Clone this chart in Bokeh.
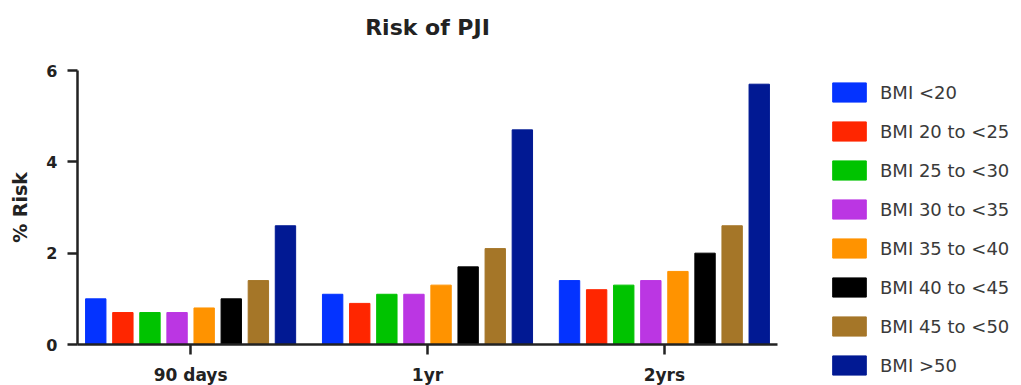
from bokeh.plotting import figure
from bokeh.models import ColumnDataSource, FactorRange, Range1d, FixedTicker, Legend, LegendItem, Title
from bokeh.transform import dodge
from bokeh.embed import file_html
from bokeh.resources import INLINE

# Follow-up windows
periods = ["90 days", "1yr", "2yrs"]

# BMI bands
bmi_groups = ["BMI <20", "BMI 20 to <25", "BMI 25 to <30", "BMI 30 to <35",
              "BMI 35 to <40", "BMI 40 to <45", "BMI 45 to <50", "BMI >50"]

# % risk of PJI per BMI band, one value per follow-up window
risk_lt20 = [1.0, 1.1, 1.4]
risk_20_25 = [0.7, 0.9, 1.2]
risk_25_30 = [0.7, 1.1, 1.3]
risk_30_35 = [0.7, 1.1, 1.4]
risk_35_40 = [0.8, 1.3, 1.6]
risk_40_45 = [1.0, 1.7, 2.0]
risk_45_50 = [1.4, 2.1, 2.6]
risk_gt50 = [2.6, 4.7, 5.7]

y_ticks = [0, 2, 4, 6]

colors = ["#0433FF", "#FF2600", "#00C300", "#BB36E3",
          "#FF9300", "#000000", "#A57628", "#011993"]

series = [risk_lt20, risk_20_25, risk_25_30, risk_30_35,
          risk_35_40, risk_40_45, risk_45_50, risk_gt50]

source = ColumnDataSource(data={"period": periods,
                                **{f"s{i}": vals for i, vals in enumerate(series)}})

FONT = "DejaVu Sans"

p = figure(frame_width=700, frame_height=274,
           x_range=FactorRange(*periods, range_padding=-0.015),
           y_range=Range1d(0, 6),
           output_backend="svg", toolbar_location=None,
           min_border_left=77, min_border_right=0,
           min_border_top=70, min_border_bottom=41)

step = 0.1144
bar_w = 0.086
items = []
for i, (name, col) in enumerate(zip(bmi_groups, colors)):
    r = p.vbar(x=dodge("period", (i - 3.5) * step, range=p.x_range),
               top=f"s{i}", width=bar_w, source=source,
               fill_color=col, line_color=col, line_width=1)
    items.append(LegendItem(label=name, renderers=[r]))

legend = Legend(items=items, location=(51, -33),
                glyph_width=42, glyph_height=24, label_height=24,
                spacing=15, label_standoff=10, padding=0, margin=0,
                border_line_alpha=0, background_fill_alpha=0,
                label_text_font=FONT, label_text_font_size="18px",
                label_text_color="#3a3a3a")
p.add_layout(legend, "right")

# Title, with a blank spacer row between it and the frame
p.title = None
p.add_layout(Title(text=" ", text_font_size="10px", standoff=7), "above")
p.add_layout(Title(text="Risk of PJI", align="center", text_font=FONT,
                   text_font_size="22px", text_font_style="bold",
                   text_color="#222222", standoff=22), "above")

# Axes
p.xgrid.grid_line_color = None
p.ygrid.grid_line_color = None
p.outline_line_color = None

for ax in (p.xaxis[0], p.yaxis[0]):
    ax.axis_line_color = "#222222"
    ax.axis_line_width = 2.5
    ax.major_tick_line_color = "#222222"
    ax.major_tick_line_width = 2.5
    ax.major_tick_in = 0
    ax.major_tick_out = 10
    ax.minor_tick_line_color = None
    ax.major_label_text_font = FONT
    ax.major_label_text_font_style = "bold"
    ax.major_label_text_color = "#222222"

p.xaxis.major_label_text_font_size = "17px"
p.xaxis.major_label_standoff = 10

p.yaxis.ticker = FixedTicker(ticks=y_ticks)
p.yaxis.major_label_text_font_size = "16px"
p.yaxis.major_label_standoff = 10
p.yaxis.axis_label = "% Risk"
p.yaxis.axis_label_text_font = FONT
p.yaxis.axis_label_text_font_size = "19px"
p.yaxis.axis_label_text_font_style = "bold"
p.yaxis.axis_label_text_color = "#222222"
p.yaxis.axis_label_standoff = 12

open("out.html", "w").write(file_html(p, INLINE))
